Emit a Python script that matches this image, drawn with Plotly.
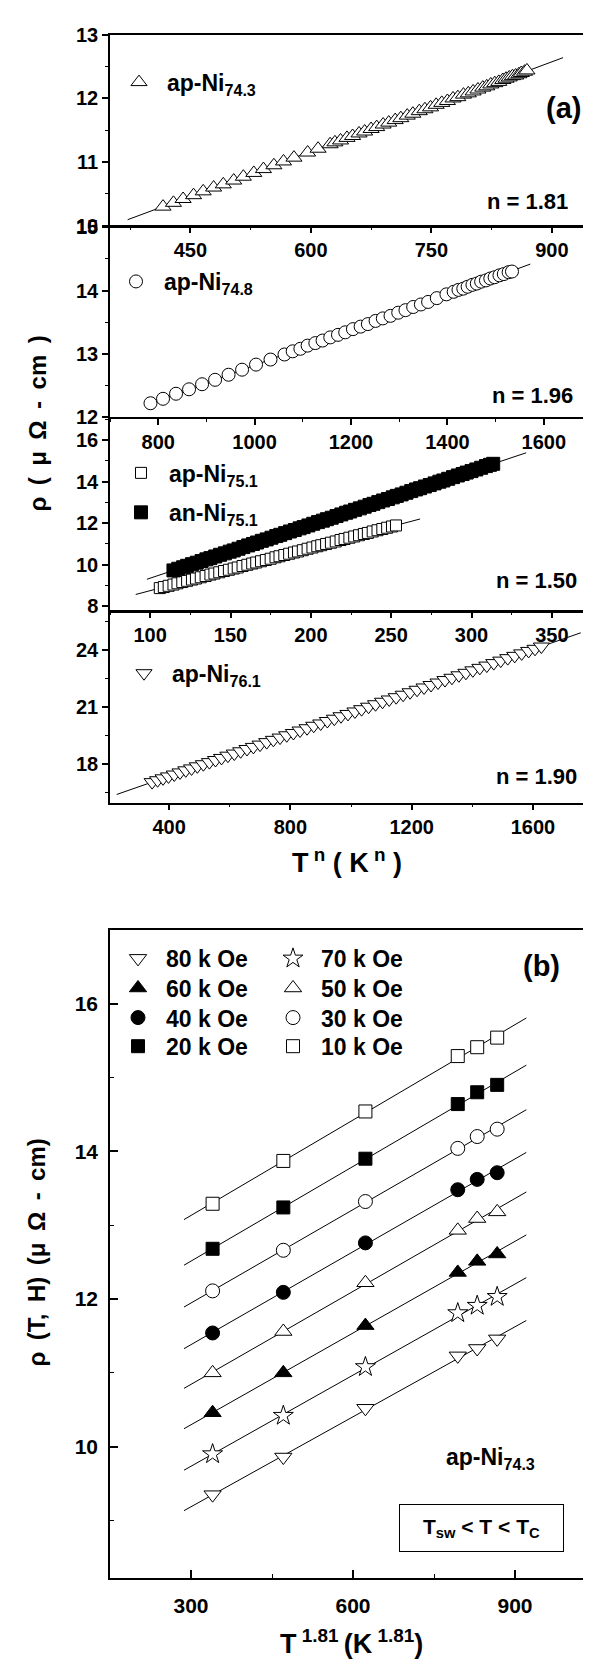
import numpy as np
import plotly.graph_objects as go

# ---------------- data: panel (a) ----------------
# ap-Ni74.3, n = 1.81 (open up-triangles)
a1_x = [416, 429, 441, 454, 466, 479, 491, 504, 516, 529, 541, 554, 566, 579, 596, 609,
        624, 630, 637, 645, 652, 660, 667, 675, 682, 690, 697, 705, 712, 720, 727, 735,
        742, 749, 756, 763, 770, 777, 783, 790, 796, 802, 808, 814, 819, 824, 829, 834,
        839, 843, 847, 851, 855, 859, 862, 866, 869]
a1_y = [10.30, 10.36, 10.42, 10.48, 10.54, 10.60, 10.65, 10.71, 10.77, 10.83, 10.89, 10.95,
        11.01, 11.07, 11.15, 11.21, 11.28, 11.31, 11.34, 11.38, 11.41, 11.45, 11.48, 11.52,
        11.55, 11.59, 11.62, 11.66, 11.69, 11.73, 11.76, 11.80, 11.83, 11.86, 11.90, 11.93,
        11.96, 12.00, 12.02, 12.06, 12.08, 12.11, 12.14, 12.17, 12.19, 12.22, 12.24, 12.26,
        12.29, 12.31, 12.33, 12.35, 12.36, 12.38, 12.40, 12.42, 12.44]
a1_fit_x = [372, 914]

# ap-Ni74.8, n = 1.96 (open circles)
a2_x = [784, 810, 837, 864, 891, 918, 946, 974, 1003, 1033, 1062, 1079, 1095, 1110, 1126,
        1141, 1157, 1173, 1188, 1204, 1220, 1235, 1251, 1266, 1282, 1298, 1313, 1329, 1345,
        1360, 1378, 1398, 1413, 1423, 1433, 1442, 1452, 1461, 1470, 1480, 1489, 1498, 1508,
        1517, 1527, 1534]
a2_y = [12.22, 12.29, 12.37, 12.44, 12.52, 12.59, 12.67, 12.75, 12.83, 12.91, 12.99, 13.04,
        13.08, 13.13, 13.17, 13.21, 13.26, 13.30, 13.34, 13.39, 13.43, 13.47, 13.52, 13.56,
        13.60, 13.65, 13.69, 13.74, 13.78, 13.82, 13.88, 13.94, 13.98, 14.01, 14.03, 14.06,
        14.09, 14.11, 14.14, 14.16, 14.19, 14.21, 14.24, 14.26, 14.29, 14.30]
a2_fit_x = [773, 1572]

# ap-Ni75.1 (open squares) and an-Ni75.1 (filled squares), n = 1.50
a3o_x = [106, 108.5, 111.5, 114.5, 117, 120, 123, 126, 128.5, 131.5, 134.5, 137.5, 140, 143,
         146, 149, 152, 154.5, 157.5, 160.5, 163.5, 166, 169, 172, 175, 178, 180.5, 183.5,
         186.5, 189.5, 192, 195, 198, 201, 204, 206.5, 209.5, 212.5, 215.5, 218.5, 221, 224,
         227, 230, 233, 235.5, 238.5, 241.5, 244.5, 247.5, 250.5, 253]
a3o_y = [8.88, 8.93, 8.99, 9.05, 9.11, 9.17, 9.23, 9.29, 9.34, 9.40, 9.46, 9.53, 9.58, 9.64,
         9.70, 9.76, 9.82, 9.87, 9.94, 10.00, 10.06, 10.11, 10.17, 10.23, 10.29, 10.36, 10.41,
         10.47, 10.53, 10.59, 10.64, 10.70, 10.77, 10.83, 10.89, 10.94, 11.00, 11.06, 11.12,
         11.19, 11.24, 11.30, 11.36, 11.42, 11.48, 11.53, 11.60, 11.66, 11.72, 11.78, 11.84,
         11.89]
a3o_fit_x = [91, 268]

a3f_x = [114.5, 117.5, 120.5, 123, 126, 129, 132, 135, 137.5, 140.5, 143.5, 146.5, 149.5, 152,
         155, 158, 161, 164, 166.5, 169.5, 172.5, 175.5, 178.5, 181, 184, 187, 190, 193, 195.5,
         198.5, 201.5, 204.5, 207.5, 210, 213, 216, 219, 222, 224.5, 227.5, 230.5, 233.5,
         236.5, 239, 242, 245, 248, 251, 253.5, 256.5, 259.5, 262.5, 265.5, 268, 271, 274,
         277, 280, 282.5, 285.5, 288.5, 291.5, 294.5, 297, 300, 303, 306, 309, 311.5, 313.5]
a3f_y = [9.73, 9.81, 9.88, 9.95, 10.03, 10.10, 10.18, 10.26, 10.32, 10.40, 10.48, 10.55, 10.63,
         10.69, 10.77, 10.85, 10.93, 11.00, 11.07, 11.15, 11.22, 11.30, 11.38, 11.44, 11.52,
         11.60, 11.67, 11.75, 11.81, 11.89, 11.97, 12.05, 12.12, 12.19, 12.26, 12.34, 12.42,
         12.50, 12.56, 12.64, 12.71, 12.79, 12.87, 12.93, 13.01, 13.09, 13.16, 13.24, 13.31,
         13.38, 13.46, 13.54, 13.62, 13.68, 13.76, 13.83, 13.91, 13.99, 14.05, 14.13, 14.21,
         14.29, 14.36, 14.43, 14.50, 14.58, 14.66, 14.74, 14.80, 14.85]
a3f_fit_x = [98, 334]

# ap-Ni76.1, n = 1.90 (open down-triangles)
a4_x = [344, 362, 380, 398, 417, 436, 455, 474, 493, 513, 533, 553, 573, 594, 615, 636, 657,
        678, 700, 722, 744, 766, 788, 810, 832, 855, 877, 900, 922, 945, 967, 990, 1013, 1035,
        1058, 1081, 1104, 1126, 1149, 1172, 1195, 1218, 1241, 1264, 1287, 1310, 1333, 1356,
        1379, 1402, 1425, 1448, 1471, 1494, 1517, 1540, 1563, 1586, 1607, 1628]
a4_y = [17.07, 17.17, 17.27, 17.37, 17.47, 17.58, 17.69, 17.79, 17.90, 18.01, 18.12, 18.23,
        18.34, 18.46, 18.57, 18.69, 18.81, 18.92, 19.04, 19.17, 19.29, 19.41, 19.53, 19.65,
        19.78, 19.90, 20.03, 20.15, 20.28, 20.40, 20.53, 20.65, 20.78, 20.90, 21.03, 21.16,
        21.29, 21.41, 21.53, 21.66, 21.79, 21.92, 22.04, 22.17, 22.30, 22.43, 22.55, 22.68,
        22.81, 22.94, 23.07, 23.19, 23.32, 23.45, 23.58, 23.70, 23.83, 23.96, 24.07, 24.19]
a4_fit_x = [227, 1758]

n_labels = ["n = 1.81", "n = 1.96", "n = 1.50", "n = 1.90"]

# ---------------- data: panel (b) ----------------
b_x = [340, 471, 623, 794, 830, 867]
b_fields = ["80 k Oe", "70 k Oe", "60 k Oe", "50 k Oe", "40 k Oe", "30 k Oe", "20 k Oe", "10 k Oe"]
b_80 = [9.35, 9.86, 10.52, 11.23, 11.33, 11.46]
b_70 = [9.90, 10.42, 11.08, 11.81, 11.91, 12.03]
b_60 = [10.46, 11.00, 11.64, 12.36, 12.51, 12.61]
b_50 = [11.00, 11.56, 12.22, 12.93, 13.09, 13.18]
b_40 = [11.54, 12.09, 12.76, 13.48, 13.62, 13.71]
b_30 = [12.11, 12.66, 13.32, 14.04, 14.20, 14.30]
b_20 = [12.68, 13.24, 13.90, 14.64, 14.80, 14.90]
b_10 = [13.29, 13.87, 14.54, 15.29, 15.41, 15.54]
b_fit_x = [287, 921]

# ---------------- layout helpers ----------------
W, H = 591, 1665
def px(x):
    return x / W
def py(y):
    return 1 - y / H

FONT = "Liberation Sans"
def bfont(size):
    return dict(family=FONT, size=size, color="black", weight="bold")

fig = go.Figure()

def fit_line(xs, ys, ext, xa, ya):
    k, b = np.polyfit(xs, ys, 1)
    ex = np.array(ext, dtype=float)
    fig.add_trace(go.Scatter(x=ex, y=k * ex + b, mode="lines", xaxis=xa, yaxis=ya,
                             line=dict(color="black", width=1), showlegend=False,
                             hoverinfo="skip"))

def pts(xs, ys, name, symbol, size, fill, xa, ya, legend):
    fig.add_trace(go.Scatter(x=xs, y=ys, mode="markers", name=name, xaxis=xa, yaxis=ya,
                             legend=legend,
                             marker=dict(symbol=symbol, size=size, color=fill,
                                         line=dict(color="black", width=1))))

# panel (a) subplot 1
fit_line(a1_x, a1_y, a1_fit_x, "x", "y")
pts(a1_x, a1_y, "ap-Ni<sub>74.3</sub>", "triangle-up", 14, "white", "x", "y", "legend")
# subplot 2
fit_line(a2_x, a2_y, a2_fit_x, "x2", "y2")
pts(a2_x, a2_y, "ap-Ni<sub>74.8</sub>", "circle", 13, "white", "x2", "y2", "legend2")
# subplot 3
fit_line(a3o_x, a3o_y, a3o_fit_x, "x3", "y3")
fit_line(a3f_x, a3f_y, a3f_fit_x, "x3", "y3")
pts(a3o_x, a3o_y, "ap-Ni<sub>75.1</sub>", "square", 11, "white", "x3", "y3", "legend3")
pts(a3f_x, a3f_y, "an-Ni<sub>75.1</sub>", "square", 13, "black", "x3", "y3", "legend4")
# subplot 4
fit_line(a4_x, a4_y, a4_fit_x, "x4", "y4")
pts(a4_x, a4_y, "ap-Ni<sub>76.1</sub>", "triangle-down", 14, "white", "x4", "y4", "legend5")

# panel (b)
b_series = [b_80, b_70, b_60, b_50, b_40, b_30, b_20, b_10]
b_symbols = ["triangle-down", "star", "triangle-up", "triangle-up", "circle", "circle", "square", "square"]
b_fills = ["white", "white", "black", "white", "black", "white", "black", "white"]
b_sizes = [15, 15, 15, 15, 14, 14, 13, 13]
for ys in b_series:
    fit_line(b_x, ys, b_fit_x, "x5", "y5")
for i, (ys, name, sym, fill, sz) in enumerate(zip(b_series, b_fields, b_symbols, b_fills, b_sizes)):
    pts(b_x, ys, name, sym, sz, fill, "x5", "y5", f"legend{6 + i}")

# ---------------- axes ----------------
LW = 1.5
AX_L_A, AX_R_A = 102, 584
AX_L_B, AX_R_B = 102, 588
a_rows = [(16, 211 - LW), (211, 405 - LW), (405, 601 - LW), (601, 794)]
a_xr = [[350, 950], [700, 1700], [75, 375], [205, 1795]]
a_xd = [150, 200, 50, 400]
a_yr = [[10, 13], [12, 15], [7.8, 17.02], [16, 26]]
a_yd = [1, 1, 2, 3]

def axis_common(inside, fs):
    return dict(showgrid=False, zeroline=False, showline=True, linecolor="black",
                linewidth=LW, mirror=True, ticks="inside" if inside else "outside",
                ticklen=8 if inside else 6, tickwidth=1.5, tickcolor="black",
                tickfont=bfont(fs))

lay = {}
for i, ((t, b), xr, xd, yr, yd) in enumerate(zip(a_rows, a_xr, a_xd, a_yr, a_yd), start=1):
    xn = "xaxis" if i == 1 else f"xaxis{i}"
    yn = "yaxis" if i == 1 else f"yaxis{i}"
    xa = axis_common(False, 20)
    xa.update(domain=[px(AX_L_A), px(AX_R_A)], range=xr, dtick=xd, tick0=0,
              anchor="y" if i == 1 else f"y{i}",
              minor=dict(dtick=xd / 2, ticks="outside", ticklen=3, tickwidth=1, tickcolor="black"))
    ya = axis_common(False, 20)
    ya.update(domain=[py(b), py(t)], range=yr, dtick=yd, tick0=0,
              anchor="x" if i == 1 else f"x{i}",
              minor=dict(dtick=yd / 2, ticks="outside", ticklen=3, tickwidth=1, tickcolor="black"))
    lay[xn] = xa
    lay[yn] = ya

xb = axis_common(True, 21)
xb.update(domain=[px(AX_L_B), px(AX_R_B)], range=[150, 1050], dtick=300, tick0=0, anchor="y5",
          ticklabelstandoff=8,
          minor=dict(dtick=150, ticks="inside", ticklen=4, tickwidth=1, tickcolor="black"))
yb = axis_common(True, 21)
yb.update(domain=[py(1580), py(923)], range=[8.22, 17.0], dtick=2, tick0=0, anchor="x5",
          ticklabelstandoff=6,
          minor=dict(dtick=1, ticks="inside", ticklen=4, tickwidth=1, tickcolor="black"))
lay["xaxis5"] = xb
lay["yaxis5"] = yb

def leg(x, y):
    return dict(x=px(x), y=py(y), xanchor="left", yanchor="middle", bgcolor="rgba(0,0,0,0)",
                font=bfont(23), itemwidth=46, itemclick=False, itemdoubleclick=False)

legends = {
    "legend": leg(103, 64),
    "legend2": leg(100, 266),
    "legend3": leg(105, 460),
    "legend4": leg(105, 500),
    "legend5": leg(108, 663),
}
b_rows = [952, 952, 982, 982, 1012, 1012, 1041, 1041]
b_cols = [102, 257, 102, 257, 102, 257, 102, 257]
for i, (r, c) in enumerate(zip(b_rows, b_cols)):
    legends[f"legend{6 + i}"] = leg(c, r)

fig.update_layout(
    width=W, height=H, autosize=False,
    margin=dict(l=0, r=0, t=0, b=0),
    paper_bgcolor="white", plot_bgcolor="rgba(0,0,0,0)",
    showlegend=True,
    **legends,
    **lay,
)

TS = "\u2009 "
ann = [
    dict(text="(a)", x=px(555), y=py(90), font=bfont(29)),
    dict(text="(b)", x=px(533), y=py(960), font=bfont(29)),
    dict(text=n_labels[0], x=px(562), y=py(185), xanchor="right", font=bfont(22)),
    dict(text=n_labels[1], x=px(567), y=py(382), xanchor="right", font=bfont(22)),
    dict(text=n_labels[2], x=px(571), y=py(569), xanchor="right", font=bfont(22)),
    dict(text=n_labels[3], x=px(571), y=py(768), xanchor="right", font=bfont(22)),
    dict(text="ρ" + TS + "(" + TS + "μ" + TS + "Ω" + TS + "-" + TS + "cm" + TS + ")",
         x=px(30), y=py(410), textangle=-90, font=bfont(24)),
    dict(text="T<sup> n</sup> ( K<sup> n</sup> )", x=px(339), y=py(853), font=bfont(27)),
    dict(text="ρ" + TS + "(T," + TS + "H)" + TS + "(μ" + TS + "Ω" + TS + "-" + TS + "cm)",
         x=px(28), y=py(1250), textangle=-90, font=bfont(24)),
    dict(text="T<sup> 1.81 </sup>(K<sup> 1.81</sup>)", x=px(343), y=py(1645), font=bfont(27)),
    dict(text="ap-Ni<sub>74.3</sub>", x=px(436), y=py(1459), xanchor="left", font=bfont(23)),
    dict(text="T<sub>sw</sub> &lt; T &lt; T<sub>C</sub>", x=px(473), y=py(1529),
         font=bfont(21), bordercolor="black", borderwidth=1, borderpad=0,
         width=163, height=46, bgcolor="white"),
]
for a in ann:
    a.setdefault("xanchor", "center")
    a.setdefault("yanchor", "middle")
    a.update(xref="paper", yref="paper", showarrow=False)
fig.update_layout(annotations=ann)

fig.write_html("out.html")
